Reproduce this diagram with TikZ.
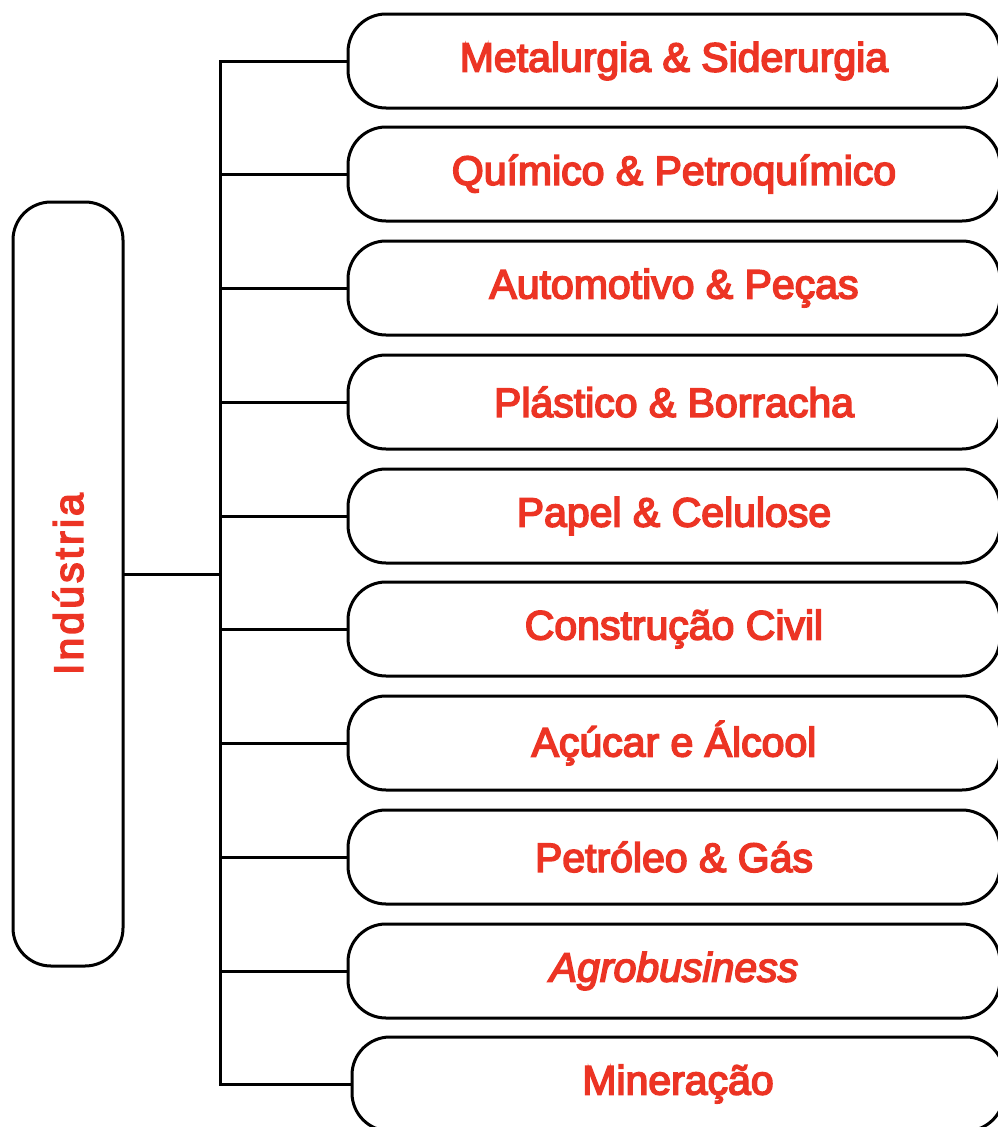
\documentclass[tikz,border=0pt]{standalone}
\usepackage{fontspec}
\newfontfamily\labfont[FakeBold=4]{Liberation Sans}
\newfontfamily\sidefont[FakeBold=4,LetterSpace=7.5]{Liberation Sans}
\definecolor{labred}{RGB}{236,52,36}
\tikzset{
  box/.style={draw=black, line width=3pt, rounded corners=38pt, inner sep=0pt},
  catbox/.style={box, minimum width=652pt, minimum height=94pt},
  lab/.style={text=labred, font=\labfont\fontsize{41}{45}\selectfont},
  conn/.style={line width=3pt, line cap=rect},
}
\begin{document}
\begin{tikzpicture}[x=1pt,y=-1pt]
\useasboundingbox (0,0) rectangle (998,1127);
\clip (0,0) rectangle (998,1127);
\node[box, text=labred, font=\sidefont\fontsize{41}{45}\selectfont, minimum width=764pt, minimum height=110pt, rotate=90] (ind) at (68,584) {Indústria};
\coordinate (j) at (220,574);
\node[catbox, lab] (c1) at (674,61) {Metalurgia \& Siderurgia};
\node[catbox, lab] (c2) at (674,174) {Químico \& Petroquímico};
\node[catbox, lab] (c3) at (674,288) {Automotivo \& Peças};
\node[catbox, lab] (c4) at (674,402) {Plástico \& Borracha};
\node[catbox, lab] (c5) at (674,516) {Papel \& Celulose};
\node[catbox, lab] (c6) at (674,629) {Construção Civil};
\node[catbox, lab] (c7) at (674,743) {Açúcar e Álcool};
\node[catbox, lab] (c8) at (674,857) {Petróleo \& Gás};
\node[catbox, lab] (c9) at (674,971) {\itshape Agrobusiness};
\node[catbox, lab] (c10) at (678,1084) {Mineração};
\draw[conn] (j -| ind.south) -- (j);
\draw[conn] (c1.west -| j) -- (c10.west -| j);
\foreach \i in {1,...,10}{
  \draw[conn] (c\i.west -| j) -- (c\i.west);
}
\end{tikzpicture}
\end{document}
